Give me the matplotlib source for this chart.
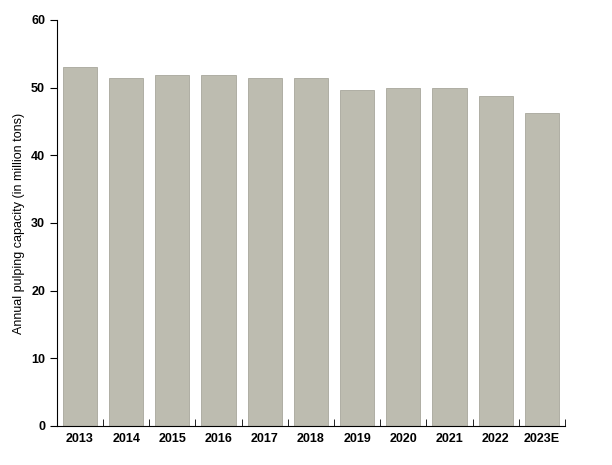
import matplotlib
matplotlib.use("Agg")
import matplotlib.pyplot as plt
import numpy as np

plt.rcParams['font.family'] = ['Liberation Sans', 'DejaVu Sans']

years = ["2013", "2014", "2015", "2016", "2017", "2018", "2019", "2020", "2021", "2022", "2023E"]
capacity = [53.1, 51.5, 51.9, 51.9, 51.4, 51.4, 49.7, 50.0, 50.0, 48.7, 46.3]

fig = plt.figure(figsize=(6.12, 4.65), dpi=100)
ax = fig.add_axes([0.093, 0.084, 0.830, 0.873])
x = np.arange(len(years))
ax.bar(x, capacity, width=0.74, color="#bdbcb0", edgecolor="#a8a79c", linewidth=0.6)
ax.set_xlim(-0.5, len(years) - 0.5)
ax.set_ylim(0, 60)
ax.set_yticks(range(0, 61, 10))
ax.set_xticks(x)
ax.set_xticklabels(years, fontweight="bold", fontsize=9)
ax.set_xticks(np.arange(-0.5, len(years)), minor=True)
ax.tick_params(axis="x", which="major", length=0, pad=5)
ax.tick_params(axis="x", which="minor", length=5, direction="in")
ax.tick_params(axis="y", labelsize=9, length=5)
for t in ax.get_yticklabels():
    t.set_fontweight("bold")
ax.set_ylabel("Annual pulping capacity (in million tons)", fontsize=9)
ax.spines["top"].set_visible(False)
ax.spines["right"].set_visible(False)
fig.savefig("out.png", dpi=100)
